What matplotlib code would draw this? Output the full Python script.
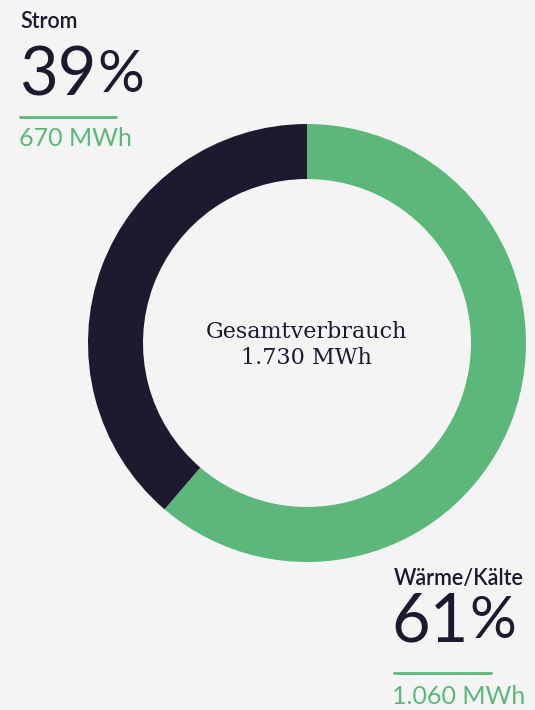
import matplotlib
matplotlib.use("Agg")
import matplotlib.pyplot as plt

labels = ["Wärme/Kälte", "Strom"]
mwh = [1060, 670]
shares = [61, 39]
mwh_text = ["1.060 MWh", "670 MWh"]
total_text = "1.730 MWh"

dark = "#1d1a2f"
green = "#5cb77a"
bg = "#f4f4f4"

W, H = 535, 710
fig = plt.figure(figsize=(W / 100, H / 100), dpi=100, facecolor=bg)
ax = fig.add_axes([0, 0, 1, 1])
ax.set_facecolor(bg)


def py(y):
    # pixel row from the top -> data y
    return H - y


ax.pie(mwh, colors=[green, dark], startangle=90, counterclock=False,
       center=(307, py(343)), radius=219,
       wedgeprops=dict(width=55, linewidth=0))
ax.set_xlim(0, W)
ax.set_ylim(0, H)
ax.set_aspect("equal")
ax.axis("off")

sans = ["Lato", "DejaVu Sans"]
serif = ["DejaVu Serif"]
renderer = fig.canvas.get_renderer()


def big_share(x, y, value):
    # number plus a tightly set percent sign (thin space in the original)
    t = ax.text(x, py(y), str(value), family=sans, fontsize=48, color=dark,
                va="center", ha="left")
    right = t.get_window_extent(renderer).x1
    ax.text(right + 1, py(y - 1), "%", family=sans, fontsize=42, color=dark,
            va="center", ha="left")


# Strom, top left
ax.text(20, py(22), labels[1], family=sans, fontsize=15.5, fontweight="semibold",
        color=dark, va="center", ha="left")
big_share(19, 77, shares[1])
ax.plot([19, 117], [py(117), py(117)], color=green, lw=2, solid_capstyle="butt")
ax.text(19, py(139), mwh_text[1], family=sans, fontsize=18, color=green,
        va="center", ha="left")

# Wärme/Kälte, bottom right
ax.text(394, py(579), labels[0], family=sans, fontsize=15.5, fontweight="semibold",
        color=dark, va="center", ha="left")
big_share(391, 622, shares[0])
ax.plot([393, 492], [py(673), py(673)], color=green, lw=2, solid_capstyle="butt")
ax.text(392, py(696), mwh_text[0], family=sans, fontsize=18, color=green,
        va="center", ha="left")

# centre
ax.text(306, py(332), "Gesamtverbrauch", family=serif, fontsize=16,
        color=dark, va="center", ha="center")
ax.text(306, py(358), total_text, family=serif, fontsize=16,
        color=dark, va="center", ha="center")

fig.savefig("out.png", dpi=100, facecolor=bg)
